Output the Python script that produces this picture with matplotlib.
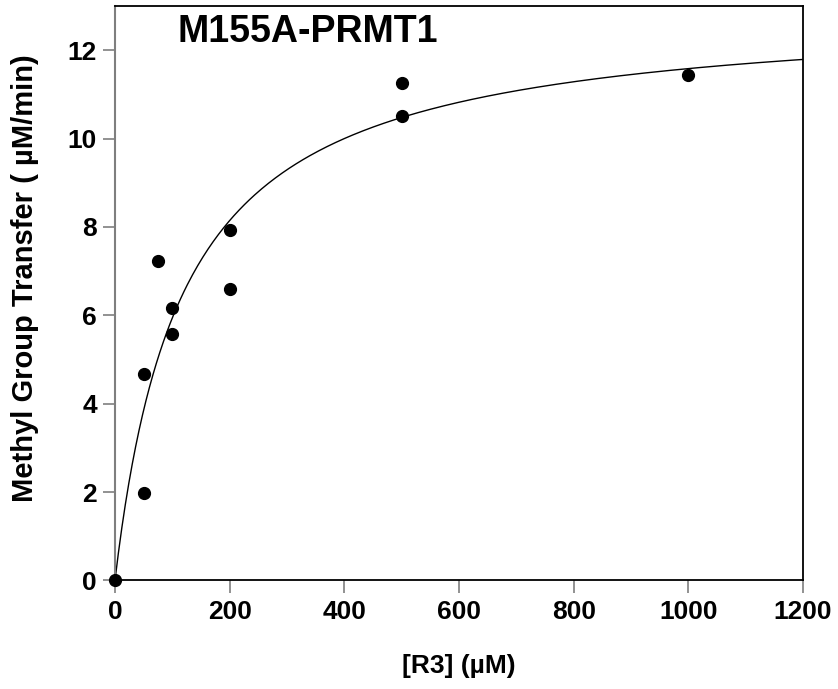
import numpy as np
import matplotlib
matplotlib.use('Agg')
import matplotlib.pyplot as plt

plt.rcParams['font.family'] = ['Liberation Sans', 'DejaVu Sans']
plt.rcParams['font.weight'] = 'bold'

# substrate concentration [R3] (uM) and measured rate (uM/min)
conc = [0, 50, 50, 75, 100, 100, 200, 200, 500, 500, 1000]
rate = [0.0, 4.68, 1.97, 7.22, 6.17, 5.58, 7.94, 6.60, 11.25, 10.52, 11.43]

# Michaelis-Menten fit parameters
vmax = 12.95
km = 118.0

x_ticks = [0, 200, 400, 600, 800, 1000, 1200]
y_ticks = [0, 2, 4, 6, 8, 10, 12]

fig = plt.figure(figsize=(8.38, 6.89), dpi=100)
ax = fig.add_axes([0.1372, 0.1575, 0.8210, 0.8338])

s = np.linspace(0, 1200, 400)
ax.plot(s, vmax * s / (km + s), color='black', lw=1.0)
ax.plot(conc, rate, 'o', color='black', ms=8.5, clip_on=False, zorder=5)

ax.set_xlim(0, 1200)
ax.set_ylim(0, 13)
ax.set_xticks(x_ticks)
ax.set_yticks(y_ticks)

for side in ['top', 'right', 'bottom']:
    ax.spines[side].set_color('black')
    ax.spines[side].set_linewidth(1.3)
ax.spines['left'].set_color('#7f7f7f')
ax.spines['left'].set_linewidth(1.5)

ax.tick_params(axis='both', direction='out', length=9, width=1.2, color='#7f7f7f', labelsize=19)
ax.tick_params(axis='x', pad=5)
ax.tick_params(axis='y', pad=4)

ax.set_xlabel('[R3] (\u00b5M)', fontsize=19, fontweight='bold', labelpad=22)
ax.set_ylabel('Methyl Group Transfer ( \u00b5M/min)', fontsize=21, fontweight='bold')
ax.yaxis.set_label_coords(-0.11, 0.527)

ax.text(0.28, 0.955, 'M155A-PRMT1', transform=ax.transAxes, ha='center', va='center',
        fontsize=27, fontweight='bold')

plt.savefig('out.png', dpi=100)
